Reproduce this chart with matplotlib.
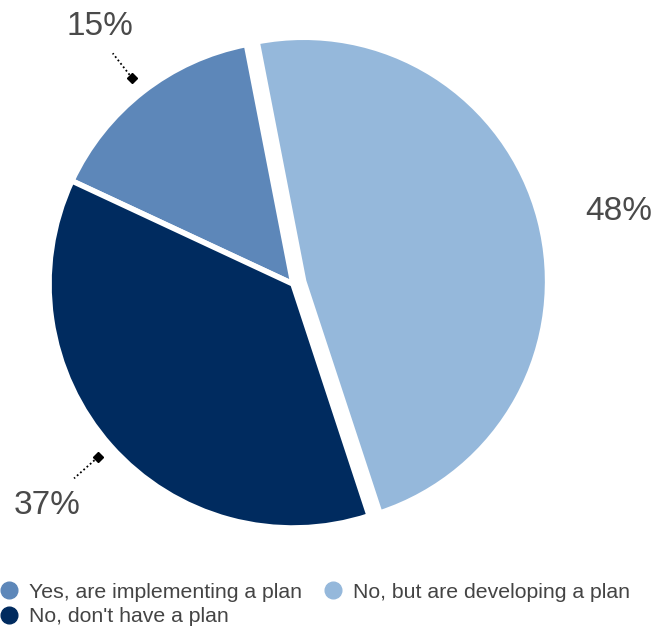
import numpy as np
import matplotlib.pyplot as plt
from matplotlib.lines import Line2D

labels = ['Yes, are implementing a plan', 'No, but are developing a plan', "No, don't have a plan"]
values = [15, 48, 37]
colors = ['#5d87b9', '#95b8db', '#002b5f']
explode = [0, 0.045, 0]

plt.rcParams['font.family'] = ['Liberation Sans', 'DejaVu Sans']

fig = plt.figure(figsize=(6.63, 6.28), dpi=100)
W, H = 663, 628
cx, cy, r = 293, 628 - 284, 244
L = 1.2
ax = fig.add_axes([(cx - L * r) / W, (cy - L * r) / H, 2 * L * r / W, 2 * L * r / H])

wedges, _ = ax.pie(values, colors=colors, startangle=155, counterclock=False,
                   explode=explode, radius=1,
                   wedgeprops=dict(edgecolor='white', linewidth=4))
ax.set_xlim(-L, L)
ax.set_ylim(-L, L)
ax.set_aspect('equal')

# small per-label placement nudges (angle in degrees, radius)
label_shift = [-1.6, -1.4, 0]
label_r = [1.33, 1.37, 1.345]
for i, w in enumerate(wedges):
    a = np.deg2rad((w.theta1 + w.theta2) / 2)
    al = a + np.deg2rad(label_shift[i])
    ax.text(label_r[i] * np.cos(al), label_r[i] * np.sin(al), f'{values[i]}%', ha='center',
            va='center_baseline', fontsize=24, color='#4a4a4a')
    if values[i] < 40:
        ax.plot([1.07 * np.cos(a), 1.2 * np.cos(a)], [1.07 * np.sin(a), 1.2 * np.sin(a)],
                color='black', lw=1.3, ls=(0, (1, 1.4)), clip_on=False)
        ax.plot([1.07 * np.cos(a)], [1.07 * np.sin(a)], marker='D', ms=5, color='black', clip_on=False)

handles = [Line2D([], [], ls='', marker='o', ms=12, color=c) for c in colors]
order = [0, 2, 1]
fig.legend([handles[i] for i in order], [labels[i] for i in order], ncol=2,
           loc='lower left', bbox_to_anchor=(-0.003, 0.003), frameon=False,
           fontsize=15.3, handlelength=1.0, handletextpad=0.45, columnspacing=0.95,
           labelspacing=0.25, borderpad=0, borderaxespad=0, labelcolor='#444444')

fig.savefig('out.png', dpi=100)
